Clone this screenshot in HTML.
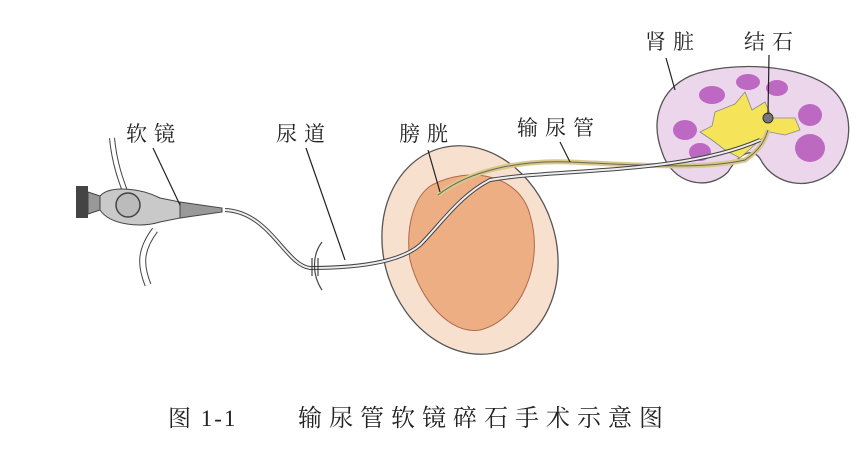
<!DOCTYPE html>
<html><head><meta charset="utf-8"><style>
body{margin:0;background:#fff;width:864px;height:456px;overflow:hidden}
svg text{font-family:"Liberation Serif","Noto Serif CJK SC",serif;fill:#222}
</style></head><body>
<svg width="864" height="456" viewBox="0 0 864 456">
<!-- kidney -->
<path d="M690,76 C730,60 805,64 833,90 C856,112 852,152 832,172 C808,192 775,184 762,162 C754,146 740,152 728,172 C708,192 672,184 662,152 C650,120 660,90 690,76 Z" fill="#ecd6ec" stroke="#555" stroke-width="1.3"/>
<g fill="#b24db8" opacity="0.8">
<ellipse cx="712" cy="95" rx="13" ry="9"/><ellipse cx="748" cy="82" rx="12" ry="8"/><ellipse cx="777" cy="88" rx="11" ry="8"/>
<ellipse cx="685" cy="130" rx="12" ry="10"/><ellipse cx="700" cy="152" rx="11" ry="9"/>
<ellipse cx="810" cy="115" rx="12" ry="11"/><ellipse cx="810" cy="148" rx="15" ry="14"/>
</g>
<path d="M715,112 L735,104 L745,92 L752,110 L765,102 L772,118 L795,118 L800,130 L785,135 L770,132 L760,140 L740,158 L725,150 L712,140 L700,132 L712,126 Z" fill="#f5e45a" stroke="#888" stroke-width="0.8"/>
<circle cx="768" cy="118" r="5" fill="#777" stroke="#333"/>
<!-- bladder -->
<ellipse cx="470" cy="250" rx="86" ry="106" transform="rotate(-18 470 250)" fill="#f8e0cf" stroke="#555" stroke-width="1.3"/>
<path d="M432,185 C470,165 520,175 530,215 C545,265 520,320 480,330 C450,335 420,300 410,260 C405,225 415,195 432,185 Z" fill="#eeae84" stroke="#b0684a" stroke-width="1"/>
<!-- ureter -->
<path d="M438,195 C470,170 520,160 570,162 C640,165 700,170 745,160 C760,150 765,140 768,130" fill="none" stroke="#d9c887" stroke-width="5"/>
<path d="M438,195 C470,170 520,160 570,162 C640,165 700,170 745,160 C760,150 765,140 768,130" fill="none" stroke="#666" stroke-width="1"/>
<!-- scope tube -->
<path d="M225,210 C270,212 285,265 310,268 C360,268 400,262 420,245 C440,225 460,195 490,180 C560,168 680,175 760,140" fill="none" stroke="#444" stroke-width="4"/>
<path d="M225,210 C270,212 285,265 310,268 C360,268 400,262 420,245 C440,225 460,195 490,180 C560,168 680,175 760,140" fill="none" stroke="#eee" stroke-width="2"/>
<!-- urethra arcs -->
<path d="M322,242 C312,255 312,275 322,290" fill="none" stroke="#444" stroke-width="1.2"/>
<path d="M312,258 L312,276 M318,258 L318,276" stroke="#444" stroke-width="1.2"/>
<!-- scope body -->
<path d="M112,138 C115,170 125,190 130,205" fill="none" stroke="#444" stroke-width="6"/>
<path d="M112,138 C115,170 125,190 130,205" fill="none" stroke="#fff" stroke-width="4"/>
<path d="M155,230 C140,250 140,265 148,285" fill="none" stroke="#444" stroke-width="7"/>
<path d="M155,230 C140,250 140,265 148,285" fill="none" stroke="#fff" stroke-width="5"/>
<rect x="76" y="186" width="12" height="32" fill="#444"/>
<path d="M88,192 L100,196 L100,210 L88,214 Z" fill="#999" stroke="#444"/>
<path d="M100,196 C110,185 140,188 160,198 L180,202 L180,218 L160,222 C140,228 110,225 100,210 Z" fill="#c9c9c9" stroke="#444"/>
<circle cx="128" cy="205" r="12" fill="#bbb" stroke="#444" stroke-width="1.5"/>
<path d="M180,202 L222,208 L222,212 L180,218 Z" fill="#999" stroke="#444"/>
<!-- leader lines -->
<g stroke="#222" stroke-width="1.2">
<line x1="153" y1="148" x2="180" y2="205"/>
<line x1="306" y1="148" x2="345" y2="260"/>
<line x1="428" y1="150" x2="440" y2="192"/>
<line x1="560" y1="142" x2="570" y2="162"/>
<line x1="666" y1="58" x2="675" y2="90"/>
<line x1="769" y1="55" x2="768" y2="114"/>
</g>
<g font-size="21" letter-spacing="7">
<text x="126" y="141">软镜</text>
<text x="276" y="141">尿道</text>
<text x="399" y="141">膀胱</text>
<text x="517" y="135">输尿管</text>
<text x="645" y="49">肾脏</text>
<text x="744" y="49">结石</text>
</g>
<text x="168" y="426" font-size="23" letter-spacing="2">图 1-1</text>
<text x="298" y="426" font-size="24" letter-spacing="7">输尿管软镜碎石手术示意图</text>
</svg>
</body></html>
